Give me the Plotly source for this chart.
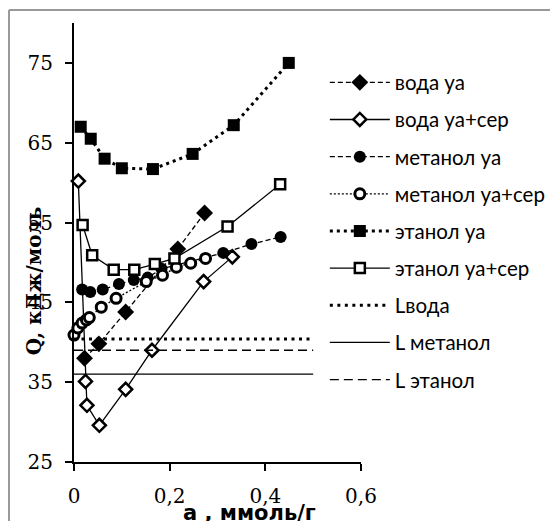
import plotly.graph_objects as go

# ---- data ----
voda_ua_x = [0.022, 0.052, 0.108, 0.217, 0.273]
voda_ua_y = [38.0, 39.8, 43.8, 51.7, 56.2]

voda_uaser_x = [0.009, 0.024, 0.027, 0.053, 0.108, 0.163, 0.271, 0.331]
voda_uaser_y = [60.2, 35.1, 32.1, 29.6, 34.1, 39.0, 47.6, 50.7]

metanol_ua_x = [0.017, 0.034, 0.060, 0.094, 0.125, 0.154, 0.183, 0.312, 0.371, 0.432]
metanol_ua_y = [46.6, 46.3, 46.6, 47.3, 47.8, 48.1, 49.2, 51.2, 52.3, 53.2]

metanol_uaser_x = [0.0, 0.008, 0.017, 0.026, 0.032, 0.057, 0.088, 0.151, 0.185, 0.214, 0.244, 0.275]
metanol_uaser_y = [40.9, 41.8, 42.4, 42.8, 43.1, 44.4, 45.5, 47.6, 48.4, 49.4, 49.9, 50.5]

etanol_ua_x = [0.014, 0.035, 0.064, 0.100, 0.165, 0.248, 0.334, 0.449]
etanol_ua_y = [67.0, 65.5, 63.0, 61.8, 61.7, 63.6, 67.2, 75.0]

etanol_uaser_x = [0.018, 0.038, 0.083, 0.126, 0.169, 0.210, 0.321, 0.431]
etanol_uaser_y = [54.7, 50.9, 49.1, 49.1, 49.8, 50.5, 54.5, 59.8]

L_x = [0.0, 0.5]
L_voda = 40.4
L_metanol = 36.0
L_etanol = 39.0

x_ticks = [0, 0.2, 0.4, 0.6]
y_ticks = [25, 35, 45, 55, 65, 75]

names = ["вода уа", "вода уа+сер", "метанол уа", "метанол уа+сер", "этанол уа",
         "этанол уа+сер", "Lвода", "L метанол", "L этанол"]

fig = go.Figure()

def add(x, y, name, dash, lw, symbol=None, size=10, fill="black", mlw=0):
    kw = dict(x=x, y=y, name=name, legendgroup=name, cliponaxis=False,
              line=dict(color="black", width=lw, dash=dash))
    if symbol:
        kw["mode"] = "lines+markers"
        kw["marker"] = dict(symbol=symbol, size=size, color=fill,
                            line=dict(color="black", width=mlw))
    else:
        kw["mode"] = "lines"
    fig.add_trace(go.Scatter(**kw))

add(voda_ua_x, voda_ua_y, names[0], "5px,3px", 1.3, "diamond", 13, "black", 0)
add(voda_uaser_x, voda_uaser_y, names[1], "solid", 1.3, "diamond", 10, "white", 2.5)
add(metanol_ua_x, metanol_ua_y, names[2], "5px,3px", 1.3, "circle", 12, "black", 0)
add(metanol_uaser_x, metanol_uaser_y, names[3], "2px,2px", 1.3, "circle", 10, "white", 3)
add(etanol_ua_x, etanol_ua_y, names[4], "3px,4px", 3, "square", 12, "black", 0)
add(etanol_uaser_x, etanol_uaser_y, names[5], "solid", 1.3, "square", 10, "white", 2.5)
add(L_x, [L_voda] * 2, names[6], "3px,4.5px", 3)
add(L_x, [L_metanol] * 2, names[7], "solid", 1.3)
add(L_x, [L_etanol] * 2, names[8], "9px,5px", 1.3)

axis_common = dict(showline=True, linecolor="black", linewidth=2, ticks="outside",
                   ticklen=7, tickwidth=2, tickcolor="black", showgrid=False,
                   zeroline=False, tickfont=dict(family="DejaVu Serif", size=20, color="black"))

fig.update_layout(
    width=550, height=521,
    margin=dict(l=74, r=189, t=23, b=59, autoexpand=False),
    paper_bgcolor="white", plot_bgcolor="white",
    separators=", ",
    showlegend=True,
    legend=dict(x=0.874, y=0.910, xanchor="left", yanchor="top",
                bgcolor="rgba(0,0,0,0)", tracegroupgap=7.5, itemwidth=60,
                font=dict(family="Lato", size=20.5, color="black")),
    xaxis=dict(range=[0, 0.6], tickvals=x_ticks, ticklabelstandoff=8, **axis_common),
    yaxis=dict(range=[25, 80], tickvals=y_ticks, ticklabelstandoff=8, **axis_common),
)

fig.add_annotation(text="<b>Q, кДж/моль</b>", xref="paper", yref="paper",
                   x=-0.139, y=0.412, xanchor="center", yanchor="middle",
                   textangle=-90, showarrow=False,
                   font=dict(family="DejaVu Serif", size=20, color="black"))
fig.add_annotation(text="<b>а , ммоль/г</b>", xref="paper", yref="paper",
                   x=0.613, y=-0.116, xanchor="center", yanchor="middle", showarrow=False,
                   font=dict(family="DejaVu Sans", size=21, color="black"))

# outer frame (left and top edges)
fx0 = (9 - 74) / 287
fy1 = (462 - 10) / 439
fig.add_shape(type="line", xref="paper", yref="paper", x0=fx0, x1=fx0, y0=-0.2, y1=fy1,
              line=dict(color="#999999", width=2))
fig.add_shape(type="line", xref="paper", yref="paper", x0=fx0, x1=2.0, y0=fy1, y1=fy1,
              line=dict(color="#999999", width=2))

fig.write_html("out.html")
